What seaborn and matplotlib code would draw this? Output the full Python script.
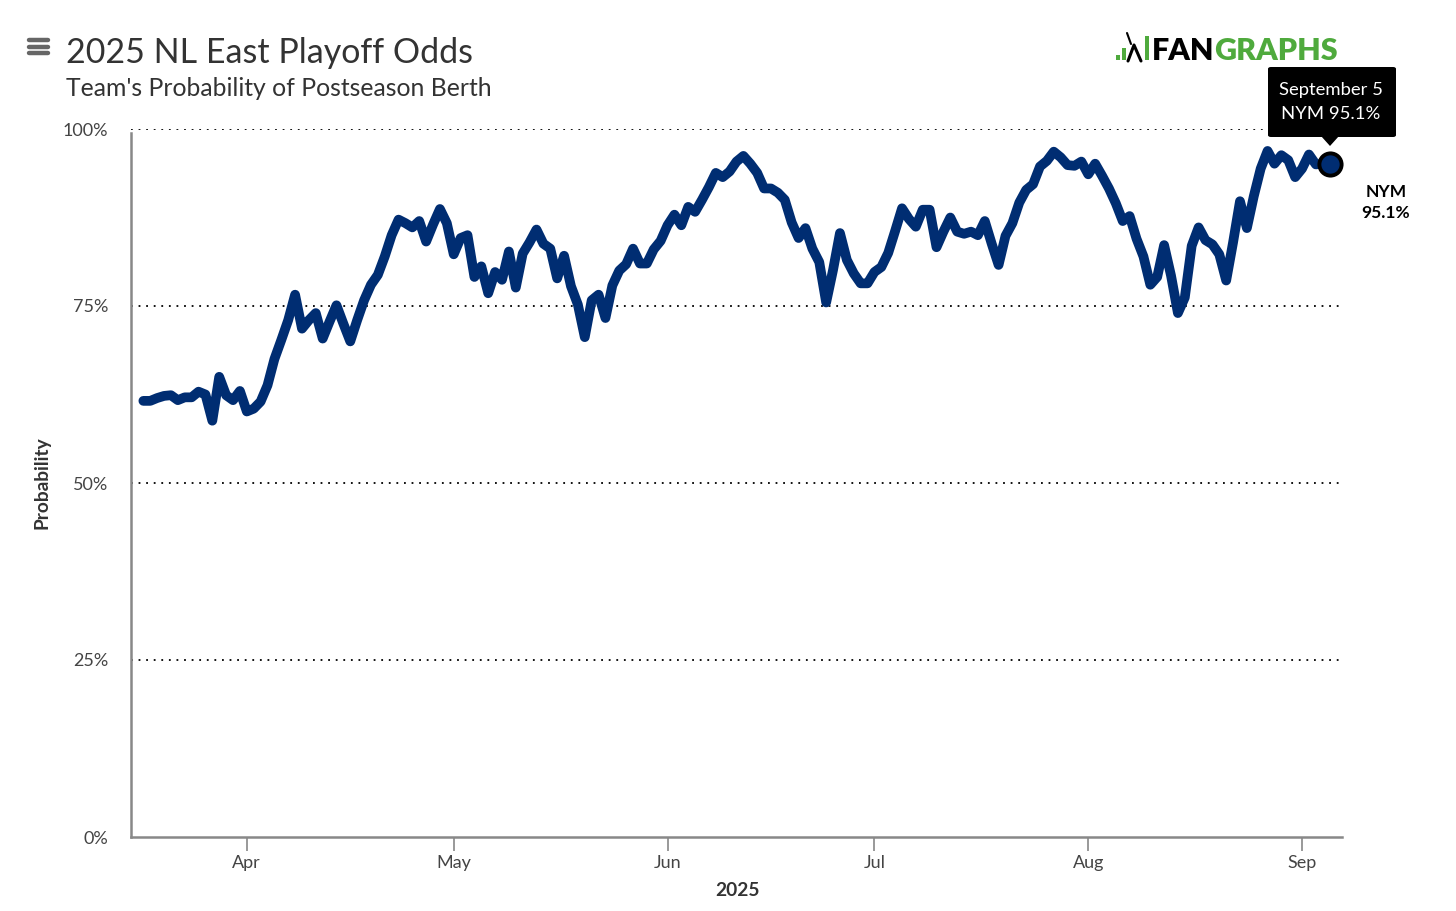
"""2025 NL East playoff odds (NYM) recreated with seaborn."""
import matplotlib

matplotlib.use("Agg")
import matplotlib.dates as mdates
import matplotlib.pyplot as plt
import pandas as pd
import seaborn as sns
from matplotlib.lines import Line2D
from matplotlib.patches import FancyBboxPatch, Polygon, Rectangle

# daily values, Mar 17 -> Sep 5
first_day = "2025-03-17"
nym_odds = [
    61.6, 61.6, 62.0, 62.3, 62.4, 61.7, 62.1, 62.1, 62.9, 62.5,  # Mar 17-26
    58.8, 65.0, 62.4, 61.7, 63.0,                                # Mar 27-31
    60.1, 60.5, 61.5, 63.8, 67.5, 70.2, 73.0, 76.6, 71.8, 73.0,  # Apr 1-10
    74.0, 70.4, 72.8, 75.1, 72.5, 70.0, 73.0, 75.8, 78.0, 79.4,  # Apr 11-20
    82.0, 85.0, 87.2, 86.7, 86.1, 87.0, 84.1, 86.5, 88.7, 86.7,  # Apr 21-30
    82.3, 84.6, 85.0, 79.1, 80.6, 76.8, 79.8, 78.7, 82.7, 77.6,  # May 1-10
    82.4, 84.0, 85.8, 83.8, 83.1, 78.9, 82.1, 77.8, 75.2, 70.6,  # May 11-20
    75.8, 76.6, 73.3, 77.9, 80.0, 80.9, 83.1, 81.0, 81.0, 83.0,  # May 21-30
    84.2,                                                        # May 31
    86.4, 87.9, 86.4, 89.0, 88.3, 90.0, 91.8, 93.8, 93.2, 94.0,  # Jun 1-10
    95.4, 96.2, 95.1, 93.8, 91.6, 91.6, 91.0, 90.0, 86.8, 84.6,  # Jun 11-20
    86.0, 83.1, 81.2, 75.5, 80.1, 85.3, 81.5, 79.6, 78.2, 78.2,  # Jun 21-30
    79.8, 80.5, 82.5, 85.6, 88.8, 87.3, 86.2, 88.6, 88.6, 83.3,  # Jul 1-10
    85.5, 87.5, 85.5, 85.2, 85.5, 85.0, 87.0, 83.8, 80.8, 84.9,  # Jul 11-20
    86.7, 89.6, 91.4, 92.2, 94.7, 95.5, 96.8, 96.0, 94.9, 94.8,  # Jul 21-30
    95.4,                                                        # Jul 31
    93.6, 95.1, 93.4, 91.6, 89.5, 87.0, 87.7, 84.5, 82.0, 78.0,  # Aug 1-10
    79.1, 83.6, 79.3, 74.0, 76.2, 83.5, 86.1, 84.3, 83.7, 82.3,  # Aug 11-20
    78.6, 84.0, 89.8, 86.0, 90.5, 94.4, 96.9, 95.1, 96.3, 95.6,  # Aug 21-30
    93.2,                                                        # Aug 31
    94.4, 96.4, 95.0, 95.1, 95.1,                                # Sep 1-5
]
team = "NYM"
y_ticks = [0, 25, 50, 75, 100]
y_tick_labels = ["0%", "25%", "50%", "75%", "100%"]

title = "2025 NL East Playoff Odds"
subtitle = "Team's Probability of Postseason Berth"
tooltip_lines = ["September 5", "NYM 95.1%"]

NAVY = "#002D72"
GREEN = "#4FAA3D"
W, H = 1456, 911

df = pd.DataFrame({
    "date": pd.date_range(first_day, periods=len(nym_odds), freq="D"),
    "prob": nym_odds,
})

sns.set_theme(style="white")
plt.rcParams["font.family"] = ["Lato", "DejaVu Sans"]

fig = plt.figure(figsize=(W / 100, H / 100), dpi=100)
ax = fig.add_axes([131 / W, 1 - 837 / H, (1342 - 131) / W, (837 - 129) / H])


def fx(px):
    return px / W


def fy(py):
    return 1 - py / H


for y in y_ticks[1:]:
    ax.axhline(y, color="black", lw=1.3, ls=(0, (1, 3.2)), zorder=1)

sns.lineplot(data=df, x="date", y="prob", ax=ax, color=NAVY, linewidth=7,
             solid_capstyle="round", solid_joinstyle="round", zorder=3)
last = df.iloc[-1]
ax.plot([last["date"]], [last["prob"]], "o", ms=16, mfc=NAVY, mec="black",
        mew=2.8, zorder=4, clip_on=False)

ax.set_ylim(0, 100)
ax.set_xlim(pd.Timestamp("2025-03-15 05:00"), pd.Timestamp("2025-09-06 19:00"))
ax.set_yticks(y_ticks)
ax.set_yticklabels(y_tick_labels)
ax.xaxis.set_major_locator(mdates.MonthLocator(bymonth=range(4, 10)))
ax.xaxis.set_major_formatter(mdates.DateFormatter("%b"))

ax.tick_params(axis="y", length=0, pad=16.5, labelsize=13, labelcolor="#444444")
ax.tick_params(axis="x", length=10, width=1.2, color="#888888", pad=3,
               labelsize=13, labelcolor="#444444", bottom=True)

for side in ["top", "right"]:
    ax.spines[side].set_visible(False)
for side in ["left", "bottom"]:
    ax.spines[side].set_color("#888888")
    ax.spines[side].set_linewidth(1.8)
ax.spines["left"].set_bounds(0, 99.4)

ax.set_xlabel("2025", fontsize=13.8, fontweight="bold", color="#333333", va="center")
ax.set_ylabel("Probability", fontsize=13.8, fontweight="bold", color="#333333", va="center")
ax.xaxis.set_label_coords((737 - 131) / (1342 - 131), (837 - 890) / (837 - 129))
ax.yaxis.set_label_coords((42 - 131) / (1342 - 131), 0.5)

# header
fig.text(fx(66), fy(63), title, fontsize=24.5, color="#333333", va="baseline")
fig.text(fx(66), fy(96), subtitle, fontsize=17.8, color="#333333", va="baseline")
for py in (40, 46.5, 53):
    fig.add_artist(Line2D([fx(29), fx(48)], [fy(py), fy(py)], color="#666666",
                          lw=3.2, solid_capstyle="round"))

# logo
fig.add_artist(Rectangle((fx(1116), fy(60)), 4 / W, 5 / H, color=GREEN, lw=0))
fig.add_artist(Rectangle((fx(1122), fy(60)), 3.5 / W, 12 / H, color=GREEN, lw=0))
fig.add_artist(Line2D([fx(1128), fx(1134), fx(1141)], [fy(61), fy(45), fy(61)],
                      color="black", lw=2.2))
fig.add_artist(Line2D([fx(1131), fx(1127)], [fy(44), fy(33)], color="black", lw=1.5))
fig.add_artist(Rectangle((fx(1145), fy(60)), 4 / W, 24 / H, color=GREEN, lw=0))
fan = fig.text(fx(1152), fy(59.5), "FAN", fontsize=22, fontweight="heavy",
               color="black", va="baseline")
fig.canvas.draw()
bb = fan.get_window_extent()
fig.text(bb.x1 / W, fy(59.5), "GRAPHS", fontsize=22, fontweight="heavy",
         color=GREEN, va="baseline")

# tooltip
fig.add_artist(FancyBboxPatch((fx(1268), fy(137)), (1396 - 1268) / W, (137 - 67) / H,
                              boxstyle="round,pad=0,rounding_size=0.002",
                              fc="black", ec="black", lw=0))
fig.add_artist(Polygon([(fx(1321), fy(136)), (fx(1339), fy(136)), (fx(1330), fy(146))],
                       closed=True, fc="black", ec="none"))
fig.text(fx(1331), fy(90), tooltip_lines[0], fontsize=13.3, color="white",
         ha="center", va="center")
fig.text(fx(1331), fy(114), tooltip_lines[1], fontsize=13.3, color="white",
         ha="center", va="center")

# end label
fig.text(fx(1386), fy(192), team, fontsize=12.5, fontweight="bold",
         color="black", ha="center", va="center")
fig.text(fx(1386), fy(213), f"{last['prob']:.1f}%", fontsize=12.5, fontweight="bold",
         color="black", ha="center", va="center")

fig.savefig("out.png", dpi=100)
